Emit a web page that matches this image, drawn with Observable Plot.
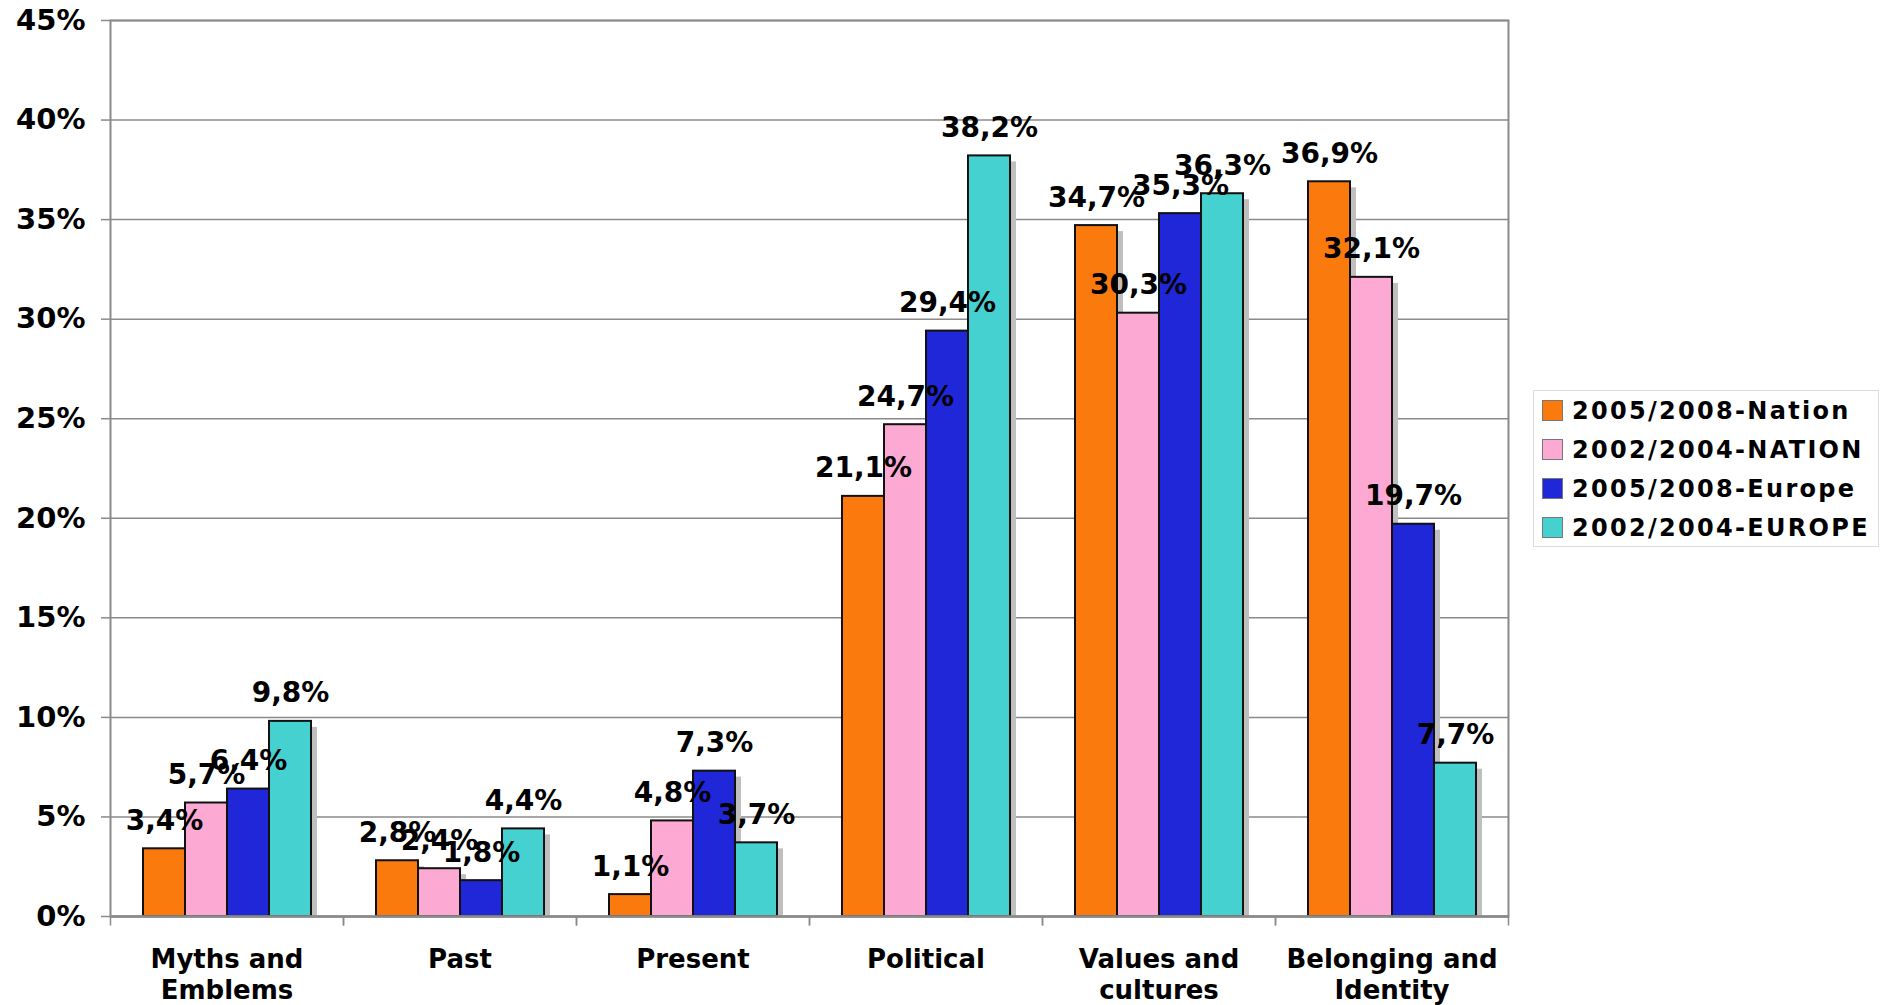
<!DOCTYPE html>
<html>
<head>
<meta charset="utf-8">
<script src="https://cdn.jsdelivr.net/npm/d3@7"></script>
<script src="https://cdn.jsdelivr.net/npm/@observablehq/plot@0.6"></script>
<style>
  html, body { margin: 0; padding: 0; background: #fff; }
  #wrap { position: relative; width: 1886px; height: 1005px; font-family: "DejaVu Sans", Verdana, sans-serif; }
  #legend { position: absolute; left: 1533px; top: 390px; width: 346px; height: 157px; border: 1px solid #dcdcdc; box-sizing: border-box; padding: 0 0 0 8px; }
  .item { display: flex; align-items: center; height: 39px; font-weight: bold; font-size: 24px; letter-spacing: 2.3px; color: #000; white-space: nowrap; }
  .sw { width: 19px; height: 19px; border: 1px solid #777; margin-right: 9px; flex: none; }
</style>
</head>
<body>
<div id="wrap"><div id="chart"></div><div id="legend"></div></div>
<script>
const categories = ["Myths and Emblems", "Past", "Present", "Political", "Values and cultures", "Belonging and Identity"];
const tickLabels = ["Myths and\nEmblems", "Past", "Present", "Political", "Values and\ncultures", "Belonging and\nIdentity"];
const series = ["2005/2008-Nation", "2002/2004-NATION", "2005/2008-Europe", "2002/2004-EUROPE"];
const colors = ["#fb7a0e", "#fca9d3", "#1f27d9", "#46d1d1"];
const nation2005 = [3.4, 2.8, 1.1, 21.1, 34.7, 36.9];
const nation2002 = [5.7, 2.4, 4.8, 24.7, 30.3, 32.1];
const europe2005 = [6.4, 1.8, 7.3, 29.4, 35.3, 19.7];
const europe2002 = [9.8, 4.4, 3.7, 38.2, 36.3, 7.7];
const yTicks = [0, 5, 10, 15, 20, 25, 30, 35, 40, 45];

const seriesValues = [nation2005, nation2002, europe2005, europe2002];
const data = [];
categories.forEach((c, ci) => series.forEach((s, si) => data.push({category: c, series: s, value: seriesValues[si][ci]})));

const fmt = v => v.toFixed(1).replace(".", ",") + "%";
const tickSym = {draw(ctx) { ctx.moveTo(0, 0); ctx.lineTo(0, 9); }};

const chart = Plot.plot({
  width: 1886,
  height: 1005,
  marginLeft: 107,
  marginRight: 376,
  marginTop: 20,
  marginBottom: 89,
  style: {fontFamily: "DejaVu Sans, Verdana, sans-serif", fontWeight: "bold", color: "#000", background: "#fff"},
  fx: {domain: categories, padding: 0, axis: null},
  x: {domain: series, paddingInner: 0, paddingOuter: 0.725, axis: null},
  y: {domain: [0, 45], axis: null},
  color: {domain: series, range: colors},
  marks: [
    Plot.gridY(yTicks, {stroke: "#8a8a8a", strokeOpacity: 1, strokeWidth: 1.5}),
    Plot.barY(data, {fx: "category", x: "series", y: "value", fill: "#bfbfbf", dx: 6, dy: 6, insetBottom: 6}),
    Plot.barY(data, {fx: "category", x: "series", y: "value", fill: "series", stroke: "#111", strokeWidth: 2}),
    Plot.ruleY([0], {stroke: "#8a8a8a", strokeWidth: 2.5}),
    Plot.frame({facet: "super", stroke: "#8a8a8a", strokeWidth: 2}),
    Plot.dot([0], {frameAnchor: "bottom-left", symbol: tickSym, stroke: "#8a8a8a", strokeWidth: 1.5, fill: "none"}),
    Plot.dot([0], {frameAnchor: "bottom-right", symbol: tickSym, stroke: "#8a8a8a", strokeWidth: 1.5, fill: "none"}),
    Plot.text(data, {fx: "category", x: "series", y: "value", text: d => fmt(d.value), dy: -28, lineAnchor: "middle", fontSize: 28, fontWeight: "bold", fill: "#000", letterSpacing: 0.3}),
    Plot.axisY({ticks: yTicks, tickFormat: d => d + "%", tickSize: 9, tickPadding: 16, fontSize: 29, fontWeight: "bold", stroke: "#8a8a8a", strokeWidth: 1.5, label: null}),
    Plot.axisFx({anchor: "bottom", tickSize: 0, tickPadding: 29, fontSize: 26, fontWeight: "bold", lineHeight: 1.2, tickFormat: d => tickLabels[categories.indexOf(d)], label: null})
  ]
});
document.getElementById("chart").appendChild(chart);

const legend = document.getElementById("legend");
series.forEach((s, i) => {
  const item = document.createElement("div");
  item.className = "item";
  const sw = document.createElement("span");
  sw.className = "sw";
  sw.style.background = colors[i];
  item.appendChild(sw);
  item.appendChild(document.createTextNode(s));
  legend.appendChild(item);
});
</script>
</body>
</html>
